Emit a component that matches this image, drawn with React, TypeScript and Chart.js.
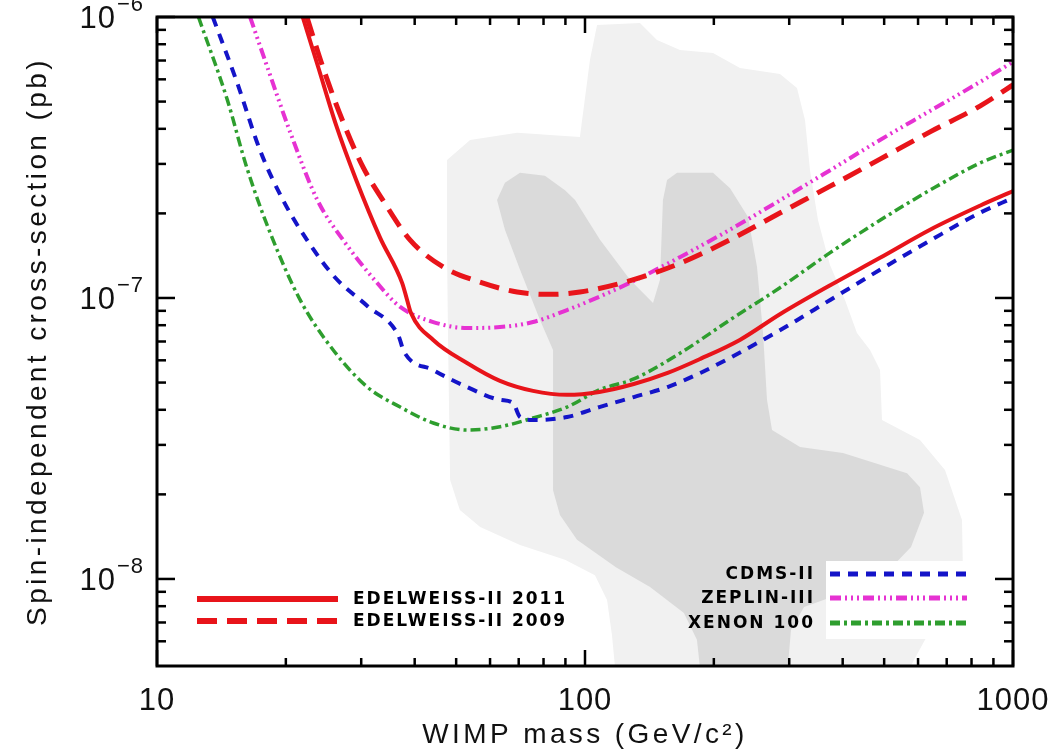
import React, { useEffect, useRef } from 'react';
import { Chart, registerables } from 'chart.js';

Chart.register(...registerables);

// ---- Exclusion limits (WIMP mass in GeV/c^2, cross-section in pb) ----
const edw2011Mass = [21.9, 23.8, 26.2, 29.2, 33.2, 37.4, 38.4, 39.2, 44.2, 53.0, 63.3, 75.6, 90.8, 108, 130, 156, 186, 230, 286, 374, 489, 640, 837, 1000];
const edw2011Sigma = [1.0e-6, 6.64e-7, 4.13e-7, 2.63e-7, 1.64e-7, 1.13e-7, 9.84e-8, 8.85e-8, 7.09e-8, 5.87e-8, 5.07e-8, 4.67e-8, 4.52e-8, 4.63e-8, 4.94e-8, 5.41e-8, 6.07e-8, 7.09e-8, 8.77e-8, 1.11e-7, 1.39e-7, 1.75e-7, 2.13e-7, 2.40e-7];

const edw2009Mass = [22.4, 24.4, 27.1, 30.3, 33.7, 39.0, 46.6, 57.8, 69.4, 82.8, 97.3, 127, 167, 218, 286, 374, 489, 640, 837, 1000];
const edw2009Sigma = [1.0e-6, 6.64e-7, 4.30e-7, 2.92e-7, 2.23e-7, 1.61e-7, 1.29e-7, 1.13e-7, 1.05e-7, 1.03e-7, 1.05e-7, 1.15e-7, 1.33e-7, 1.61e-7, 2.01e-7, 2.50e-7, 3.12e-7, 3.90e-7, 4.82e-7, 5.73e-7];

const cdmsMass = [13.5, 15.4, 17.4, 19.7, 22.4, 26.1, 31.0, 36.6, 37.8, 44.2, 53.0, 63.3, 67.9, 70.5, 75.6, 90.8, 108, 130, 156, 186, 218, 286, 374, 489, 640, 837, 1000];
const cdmsSigma = [1.0e-6, 5.82e-7, 3.36e-7, 2.23e-7, 1.61e-7, 1.18e-7, 9.37e-8, 7.38e-8, 6.42e-8, 5.54e-8, 4.82e-8, 4.34e-8, 4.23e-8, 3.77e-8, 3.68e-8, 3.77e-8, 4.09e-8, 4.44e-8, 4.82e-8, 5.41e-8, 6.12e-8, 7.69e-8, 9.84e-8, 1.26e-7, 1.60e-7, 2.01e-7, 2.27e-7];

const zeplinMass = [16.5, 18.1, 20.5, 23.7, 27.2, 32.7, 37.0, 44.2, 53.0, 63.3, 75.6, 90.8, 108, 130, 167, 218, 286, 374, 489, 640, 837, 1000];
const zeplinSigma = [1.0e-6, 6.64e-7, 3.87e-7, 2.23e-7, 1.61e-7, 1.13e-7, 9.29e-8, 8.21e-8, 7.82e-8, 7.88e-8, 8.21e-8, 9.06e-8, 1.01e-7, 1.15e-7, 1.40e-7, 1.75e-7, 2.23e-7, 2.85e-7, 3.65e-7, 4.63e-7, 5.87e-7, 6.92e-7];

const xenonMass = [12.5, 14.6, 16.2, 18.4, 21.6, 25.8, 31.0, 37.0, 44.2, 53.0, 63.3, 75.6, 90.8, 108, 130, 167, 218, 286, 374, 489, 640, 837, 1000];
const xenonSigma = [1.0e-6, 5.07e-7, 2.92e-7, 1.70e-7, 9.84e-8, 6.53e-8, 4.82e-8, 4.09e-8, 3.59e-8, 3.39e-8, 3.48e-8, 3.74e-8, 4.09e-8, 4.71e-8, 5.15e-8, 6.37e-8, 8.35e-8, 1.09e-7, 1.45e-7, 1.89e-7, 2.42e-7, 3.02e-7, 3.36e-7];

// ---- Theory regions (outer light grey, inner dark grey), closed outlines ----
const outerMass = [47.6, 53.9, 69.4, 97.3, 102.7, 106.7, 134.4, 147.3, 166.7, 199.1, 230.2, 285.5, 312.8, 326.6, 335.5, 350.3, 373.6, 405.0, 432.0, 463.4, 489.0, 494.2, 606.3, 693.6, 760.0, 764.2, 712.4, 622.9, 559.4, 118.1, 115.6, 112.6, 105.5, 89.8, 70.5, 56.9, 51.0, 48.4, 47.9, 47.6];
const outerSigma = [3.10e-7, 3.65e-7, 3.87e-7, 3.74e-7, 7.03e-7, 9.37e-7, 9.52e-7, 8.29e-7, 7.63e-7, 7.44e-7, 6.59e-7, 6.27e-7, 5.59e-7, 4.30e-7, 2.85e-7, 1.89e-7, 1.31e-7, 9.84e-8, 7.50e-8, 6.53e-8, 5.54e-8, 3.68e-8, 3.12e-8, 2.44e-8, 1.62e-8, 1.03e-8, 7.76e-9, 6.07e-9, 4.5e-9, 4.5e-9, 6.32e-9, 8.42e-9, 1.03e-8, 1.17e-8, 1.32e-8, 1.53e-8, 1.76e-8, 2.25e-8, 6.53e-8, 1.48e-7];

const innerMass = [62.3, 65.0, 70.5, 80.6, 89.8, 94.8, 108.4, 127.4, 144.2, 149.7, 152.1, 155.5, 164.1, 199.1, 218.2, 240.4, 252.3, 260.6, 266.2, 273.5, 318.0, 400.6, 565.4, 606.3, 619.6, 577.8, 505.0, 400.6, 324.9, 302.9, 296.5, 186.6, 182.6, 170.3, 141.9, 118.1, 95.8, 87.4, 84.2, 84.2, 78.5, 70.5, 65.0];
const innerSigma = [2.23e-7, 2.57e-7, 2.79e-7, 2.72e-7, 2.42e-7, 2.23e-7, 1.61e-7, 1.16e-7, 9.60e-8, 1.16e-7, 2.23e-7, 2.63e-7, 2.79e-7, 2.79e-7, 2.46e-7, 1.94e-7, 1.29e-7, 7.50e-8, 4.34e-8, 3.39e-8, 2.95e-8, 2.81e-8, 2.38e-8, 2.12e-8, 1.72e-8, 1.30e-8, 1.05e-8, 8.92e-9, 7.95e-9, 6.59e-9, 4.5e-9, 4.5e-9, 6.07e-9, 7.57e-9, 9.37e-9, 1.10e-8, 1.38e-8, 1.69e-8, 2.07e-8, 6.53e-8, 8.35e-8, 1.26e-7, 1.75e-7];

// ---- Axes ----
const xMajorTicks = [10, 100, 1000];
const xTickLabels = ['10', '100', '1000'];
const xMinorTicks = [20, 30, 40, 50, 60, 70, 80, 90, 200, 300, 400, 500, 600, 700, 800, 900];
const yMajorTicks = [1e-8, 1e-7, 1e-6];
const yTickExponents = ['\u22128', '\u22127', '\u22126'];
const yMinorTicks = [6e-9, 7e-9, 8e-9, 9e-9, 2e-8, 3e-8, 4e-8, 5e-8, 6e-8, 7e-8, 8e-8, 9e-8, 2e-7, 3e-7, 4e-7, 5e-7, 6e-7, 7e-7, 8e-7, 9e-7];
const xTitle = 'WIMP mass (GeV/c\u00B2)';
const yTitle = 'Spin-independent cross-section (pb)';

const FONT = '"Liberation Sans", Arial, sans-serif';
const LEGEND_FONT = '"DejaVu Sans", sans-serif';

function pts(xs: number[], ys: number[]) {
  return xs.map((x, i) => ({ x, y: ys[i] }));
}

const framePlugin = {
  id: 'frame',
  afterDatasetsDraw(chart: any) {
    const { ctx, chartArea: a, scales } = chart;
    const xs = scales.x;
    const ys = scales.y;
    const ds = chart.data.datasets;
    ctx.save();

    // white background behind the right legend samples
    ctx.fillStyle = '#ffffff';
    ctx.fillRect(826, 561, 148, 78);

    // legend
    const drawSample = (d: any, x1: number, x2: number, y: number, w: number) => {
      ctx.save();
      ctx.strokeStyle = d.borderColor;
      ctx.lineWidth = w;
      ctx.setLineDash(d.borderDash || []);
      ctx.lineCap = 'butt';
      ctx.beginPath();
      ctx.moveTo(x1, y);
      ctx.lineTo(x2, y);
      ctx.stroke();
      ctx.restore();
    };
    ctx.fillStyle = '#000';
    ctx.font = `bold 17px ${LEGEND_FONT}`;
    ctx.textBaseline = 'middle';
    (ctx as any).letterSpacing = '2px';
    const leftRows = [599, 621];
    [0, 1].forEach((idx, r) => {
      drawSample(ds[idx], 197, 338, leftRows[r], 6);
      ctx.textAlign = 'left';
      ctx.fillText(ds[idx].label, 353, leftRows[r] + 1);
    });
    const rightRows = [574, 598, 623];
    [2, 3, 4].forEach((idx, r) => {
      drawSample(ds[idx], 830, 967, rightRows[r], 5);
      ctx.textAlign = 'right';
      ctx.fillText(ds[idx].label, 815, rightRows[r] + 1);
    });
    (ctx as any).letterSpacing = '0px';

    // frame and inward ticks
    ctx.strokeStyle = '#000';
    ctx.lineWidth = 3;
    ctx.strokeRect(a.left, a.top, a.right - a.left, a.bottom - a.top);
    ctx.lineWidth = 2.5;
    const seg = (x1: number, y1: number, x2: number, y2: number) => {
      ctx.beginPath();
      ctx.moveTo(x1, y1);
      ctx.lineTo(x2, y2);
      ctx.stroke();
    };
    xMajorTicks.forEach((v) => {
      const px = xs.getPixelForValue(v);
      seg(px, a.bottom, px, a.bottom - 16);
      seg(px, a.top, px, a.top + 16);
    });
    xMinorTicks.forEach((v) => {
      const px = xs.getPixelForValue(v);
      seg(px, a.bottom, px, a.bottom - 8);
      seg(px, a.top, px, a.top + 8);
    });
    yMajorTicks.forEach((v) => {
      const py = ys.getPixelForValue(v);
      seg(a.left, py, a.left + 18, py);
      seg(a.right, py, a.right - 18, py);
    });
    yMinorTicks.forEach((v) => {
      const py = ys.getPixelForValue(v);
      seg(a.left, py, a.left + 9, py);
      seg(a.right, py, a.right - 9, py);
    });

    // tick labels
    ctx.fillStyle = '#111';
    ctx.textBaseline = 'alphabetic';
    ctx.font = `31px ${FONT}`;
    ctx.textAlign = 'center';
    (ctx as any).letterSpacing = '1px';
    xMajorTicks.forEach((v, i) => {
      ctx.fillText(xTickLabels[i], xs.getPixelForValue(v), a.bottom + 44);
    });
    yMajorTicks.forEach((v, i) => {
      const py = ys.getPixelForValue(v);
      ctx.font = `31px ${FONT}`;
      ctx.textAlign = 'right';
      ctx.fillText('10', a.left - 41, py + 11);
      ctx.font = `22px ${FONT}`;
      ctx.textAlign = 'left';
      ctx.fillText(yTickExponents[i], a.left - 40, py - 6);
    });

    // axis titles
    ctx.font = `28px ${FONT}`;
    ctx.textAlign = 'center';
    (ctx as any).letterSpacing = '3.4px';
    ctx.fillText(xTitle, (a.left + a.right) / 2, a.bottom + 77);
    ctx.translate(46, (a.top + a.bottom) / 2);
    ctx.rotate(-Math.PI / 2);
    ctx.fillText(yTitle, 0, 0);
    ctx.restore();
  },
};

export default function App() {
  const ref = useRef<HTMLCanvasElement | null>(null);
  useEffect(() => {
    if (!ref.current) return;
    const curve = (label: string, xs: number[], ys: number[], color: string, width: number, dash: number[]) => ({
      label,
      data: pts(xs, ys),
      borderColor: color,
      borderWidth: width,
      borderDash: dash,
      borderJoinStyle: 'round',
      fill: false,
      pointRadius: 0,
      cubicInterpolationMode: 'monotone',
      order: 0,
    });
    const chart = new Chart(ref.current, {
      type: 'line',
      data: {
        datasets: [
          curve('EDELWEISS-II 2011', edw2011Mass, edw2011Sigma, '#e8141a', 4, []),
          curve('EDELWEISS-II 2009', edw2009Mass, edw2009Sigma, '#e8141a', 5, [20, 10]),
          curve('CDMS-II', cdmsMass, cdmsSigma, '#1414c8', 4, [10, 8]),
          curve('ZEPLIN-III', zeplinMass, zeplinSigma, '#e632d2', 4, [11, 4, 2, 4, 2, 4, 2, 4]),
          curve('XENON 100', xenonMass, xenonSigma, '#2e9e2e', 3.5, [10, 4, 3, 4]),
          {
            label: 'inner region',
            data: pts(innerMass, innerSigma),
            borderColor: 'rgba(0,0,0,0)',
            borderWidth: 1,
            backgroundColor: '#dadada',
            fill: 'shape',
            pointRadius: 0,
            tension: 0,
            order: 9,
          },
          {
            label: 'outer region',
            data: pts(outerMass, outerSigma),
            borderColor: 'rgba(0,0,0,0)',
            borderWidth: 1,
            backgroundColor: '#f1f1f1',
            fill: 'shape',
            pointRadius: 0,
            tension: 0,
            order: 10,
          },
        ] as any,
      },
      options: {
        responsive: false,
        animation: false,
        layout: { padding: { left: 157, right: 49, top: 17, bottom: 86 } },
        scales: {
          x: { type: 'logarithmic', min: 10, max: 1000, display: false },
          y: { type: 'logarithmic', min: 4.9e-9, max: 1e-6, display: false },
        },
        plugins: { legend: { display: false }, tooltip: { enabled: false } },
      },
      plugins: [framePlugin],
    });
    return () => chart.destroy();
  }, []);
  return (
    <div style={{ position: 'fixed', left: 0, top: 0, width: 1062, height: 752, background: '#fff' }}>
      <canvas ref={ref} width={1062} height={752} style={{ display: 'block', width: 1062, height: 752 }} />
    </div>
  );
}
